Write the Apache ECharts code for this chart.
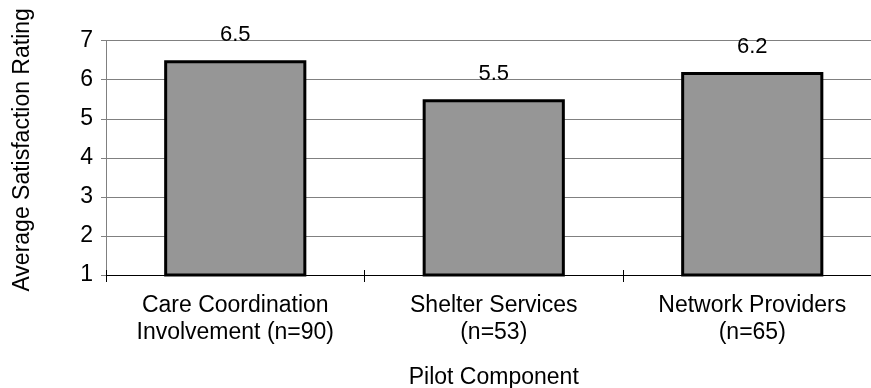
<!DOCTYPE html>
<html>
<head>
<meta charset="utf-8">
<script src="https://cdn.jsdelivr.net/npm/echarts@6/dist/echarts.min.js"></script>
<style>
  html, body { margin: 0; padding: 0; background: #ffffff; }
  #chart { width: 871px; height: 388px; }
</style>
</head>
<body>
<div id="chart"></div>
<script>
// Pilot components and their mean satisfaction ratings
const categories = [
  'Care Coordination\nInvolvement (n=90)',
  'Shelter Services\n(n=53)',
  'Network Providers\n(n=65)'
];
const ratings = [6.5, 5.5, 6.2];
const yTicks = { min: 1, max: 7, interval: 1 };

const FONT = '"Liberation Sans", Arial, sans-serif';

const chart = echarts.init(document.getElementById('chart'), null, { renderer: 'canvas' });

chart.setOption({
  animation: false,
  backgroundColor: '#ffffff',
  textStyle: { fontFamily: FONT, color: '#000' },
  grid: {
    left: 106,
    top: 40.7,
    bottom: 113,
    right: -10.5,
    containLabel: false,
    outerBoundsMode: 'none'
  },
  xAxis: [
    {
      type: 'category',
      data: categories,
      name: 'Pilot Component',
      nameLocation: 'middle',
      nameGap: 91,
      nameTextStyle: { fontFamily: FONT, fontSize: 23, color: '#000' },
      axisLine: { lineStyle: { color: '#000', width: 1 } },
      axisTick: { show: true, length: 7, lineStyle: { color: '#000' } },
      axisLabel: {
        fontFamily: FONT, fontSize: 23, color: '#000',
        lineHeight: 27, margin: 17, interval: 0
      },
      splitLine: { show: false }
    },
    {
      // short inward ticks so the category dividers cross the baseline
      type: 'category',
      data: categories,
      position: 'bottom',
      axisLine: { show: false },
      axisTick: { show: true, inside: true, length: 5, lineStyle: { color: '#000' } },
      axisLabel: { show: false },
      splitLine: { show: false }
    }
  ],
  yAxis: {
    type: 'value',
    min: yTicks.min,
    max: yTicks.max,
    interval: yTicks.interval,
    name: 'Average Satisfaction Rating',
    nameLocation: 'middle',
    nameRotate: 90,
    nameGap: 72,
    nameTextStyle: { fontFamily: FONT, fontSize: 23, color: '#000', padding: [0, 0, 0, 16] },
    axisLine: { show: true, lineStyle: { color: '#808080', width: 1 } },
    axisTick: { show: true, length: 5, lineStyle: { color: '#808080' } },
    axisLabel: { fontFamily: FONT, fontSize: 23, color: '#000', margin: 13 },
    splitLine: { show: true, lineStyle: { color: '#808080', width: 1 } }
  },
  series: [
    {
      type: 'bar',
      data: ratings,
      xAxisIndex: 0,
      barWidth: '55%',
      itemStyle: { color: '#969696', borderColor: '#000', borderWidth: 3 },
      label: {
        show: true,
        position: 'top',
        distance: 14,
        fontFamily: FONT,
        fontSize: 22,
        color: '#000',
        formatter: p => p.value.toFixed(1)
      }
    }
  ]
});
</script>
</body>
</html>
